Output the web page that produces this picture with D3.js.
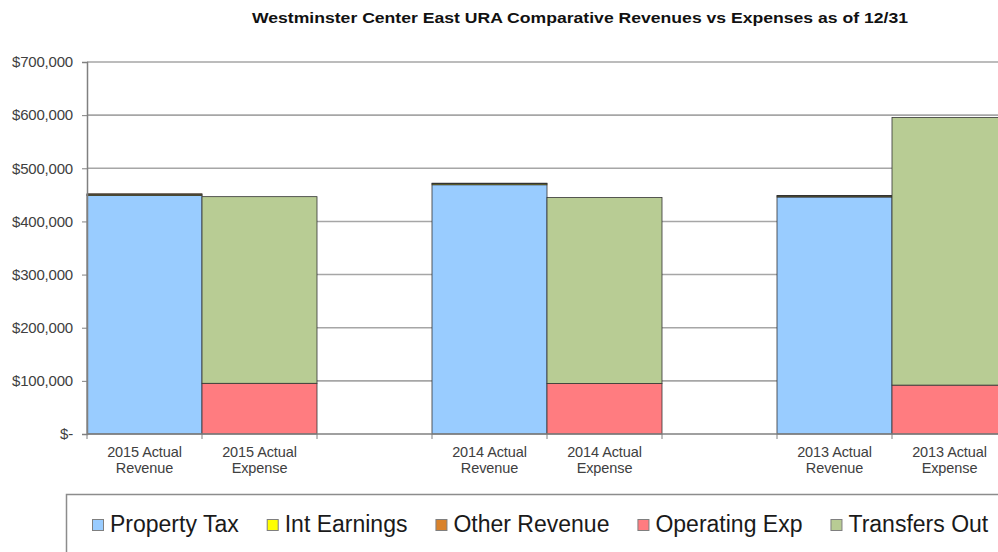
<!DOCTYPE html>
<html>
<head>
<meta charset="utf-8">
<script src="https://cdn.jsdelivr.net/npm/d3@7"></script>
<style>
  body { margin: 0; background: #fff; }
  svg { display: block; }
</style>
</head>
<body>
<script>
// chart data
const categories = ['2015 Actual Revenue', '2015 Actual Expense', '2014 Actual Revenue', '2014 Actual Expense', '2013 Actual Revenue', '2013 Actual Expense'];
// blank slots sit between the year pairs, like the empty columns in the sheet
const slots = ['2015 Actual Revenue', '2015 Actual Expense', 'gap1', '2014 Actual Revenue', '2014 Actual Expense', 'gap2', '2013 Actual Revenue', '2013 Actual Expense'];
const seriesNames = ['Property Tax', 'Int Earnings', 'Other Revenue', 'Operating Exp', 'Transfers Out'];
const propertyTax = [449000, 0, 469000, 0, 446000, 0];
const intEarnings = [2000, 0, 2000, 0, 1800, 0];
const otherRevenue = [1000, 0, 1000, 0, 1000, 0];
const operatingExp = [0, 95400, 0, 95000, 0, 92000];
const transfersOut = [0, 351200, 0, 350000, 0, 503500];
const yTicks = [0, 100000, 200000, 300000, 400000, 500000, 600000, 700000];
const titleText = 'Westminster Center East URA  Comparative Revenues vs Expenses as of 12/31';

const colors = ['#99ccff', '#ffff00', '#d9822b', '#ff7c80', '#b8cc94'];

const W = 998, H = 552;
const plotLeft = 87, plotTop = 62, plotBottom = 434;
const slotW = 115;
const font = '"Liberation Sans", Arial, sans-serif';

const svg = d3.select('body')
    .append('svg')
    .attr('width', W)
    .attr('height', H);

// build stacked rows from the series arrays
const rows = categories.map((c, i) => ({
    cat: c,
    'Property Tax': propertyTax[i],
    'Int Earnings': intEarnings[i],
    'Other Revenue': otherRevenue[i],
    'Operating Exp': operatingExp[i],
    'Transfers Out': transfersOut[i]
}));
const stacked = d3.stack().keys(seriesNames)(rows);

const x = d3.scaleBand()
    .domain(slots)
    .range([plotLeft, plotLeft + slotW * slots.length])
    .padding(0);

const y = d3.scaleLinear()
    .domain([0, 700000])
    .range([plotBottom, plotTop]);

// title
svg.append('text')
    .attr('x', 580)
    .attr('y', 23)
    .attr('text-anchor', 'middle')
    .attr('font-family', font)
    .attr('font-weight', 'bold')
    .attr('font-size', '15px')
    .attr('textLength', 656)
    .attr('lengthAdjust', 'spacingAndGlyphs')
    .attr('fill', '#111')
    .text(titleText);

// gridlines
svg.append('g')
    .selectAll('line')
    .data(yTicks.filter(d => d > 0))
    .enter()
    .append('line')
    .attr('x1', plotLeft)
    .attr('x2', W)
    .attr('y1', d => y(d))
    .attr('y2', d => y(d))
    .attr('stroke', '#a6a6a6')
    .attr('stroke-width', 1.6);

// bars
svg.append('g')
    .selectAll('g')
    .data(stacked)
    .enter()
    .append('g')
    .attr('fill', (d, i) => colors[i])
    .selectAll('rect')
    .data(d => d.filter(s => s[1] - s[0] > 0))
    .enter()
    .append('rect')
    .attr('x', d => x(d.data.cat))
    .attr('y', d => y(d[1]))
    .attr('width', x.bandwidth())
    .attr('height', d => y(d[0]) - y(d[1]))
    .attr('stroke', '#333')
    .attr('stroke-width', 0.8);

// y axis
const yAxis = svg.append('g')
    .attr('transform', `translate(${plotLeft},0)`)
    .call(d3.axisLeft(y)
        .tickValues(yTicks)
        .tickSize(5)
        .tickPadding(9)
        .tickFormat(d => d === 0 ? '$-' : '$' + d3.format(',')(d)));
yAxis.select('.domain').attr('stroke', '#808080').attr('stroke-width', 1.5);
yAxis.selectAll('.tick line').attr('stroke', '#808080');
yAxis.selectAll('.tick text')
    .attr('font-family', font)
    .attr('font-size', '15px')
    .attr('letter-spacing', '-0.2px')
    .attr('fill', '#404040');

// x axis
const xAxis = svg.append('g')
    .attr('transform', `translate(0,${plotBottom})`);
xAxis.append('line')
    .attr('x1', plotLeft)
    .attr('x2', W)
    .attr('stroke', '#808080')
    .attr('stroke-width', 1.5);
xAxis.selectAll('.xtick')
    .data(slots)
    .enter()
    .append('line')
    .attr('class', 'xtick')
    .attr('x1', d => x(d))
    .attr('x2', d => x(d))
    .attr('y1', 0)
    .attr('y2', 5)
    .attr('stroke', '#808080');

// category labels, two lines each
const lbl = xAxis.selectAll('.xlabel')
    .data(categories)
    .enter()
    .append('text')
    .attr('class', 'xlabel')
    .attr('text-anchor', 'middle')
    .attr('font-family', font)
    .attr('font-size', '14.5px')
    .attr('letter-spacing', '-0.1px')
    .attr('fill', '#404040');
lbl.append('tspan')
    .attr('x', d => x(d) + x.bandwidth() / 2)
    .attr('y', 23)
    .text(d => d.split(' ').slice(0, 2).join(' '));
lbl.append('tspan')
    .attr('x', d => x(d) + x.bandwidth() / 2)
    .attr('y', 39)
    .text(d => d.split(' ')[2]);

// legend box
svg.append('rect')
    .attr('x', 66.5)
    .attr('y', 494.5)
    .attr('width', 1000)
    .attr('height', 100)
    .attr('fill', '#fff')
    .attr('stroke', '#8c8c8c')
    .attr('stroke-width', 1.5);

const legend = svg.append('g');
let lx = 92;
seriesNames.forEach((name, i) => {
    legend.append('rect')
        .attr('x', lx + 0.5)
        .attr('y', 519.5)
        .attr('width', 11)
        .attr('height', 11)
        .attr('fill', colors[i])
        .attr('stroke', '#7f7f7f');
    const t = legend.append('text')
        .attr('x', lx + 18)
        .attr('y', 532)
        .attr('font-family', font)
        .attr('font-size', '23px')
        .attr('fill', '#1a1a1a')
        .text(name);
    lx += 18 + t.node().getComputedTextLength() + 28;
});
</script>
</body>
</html>
